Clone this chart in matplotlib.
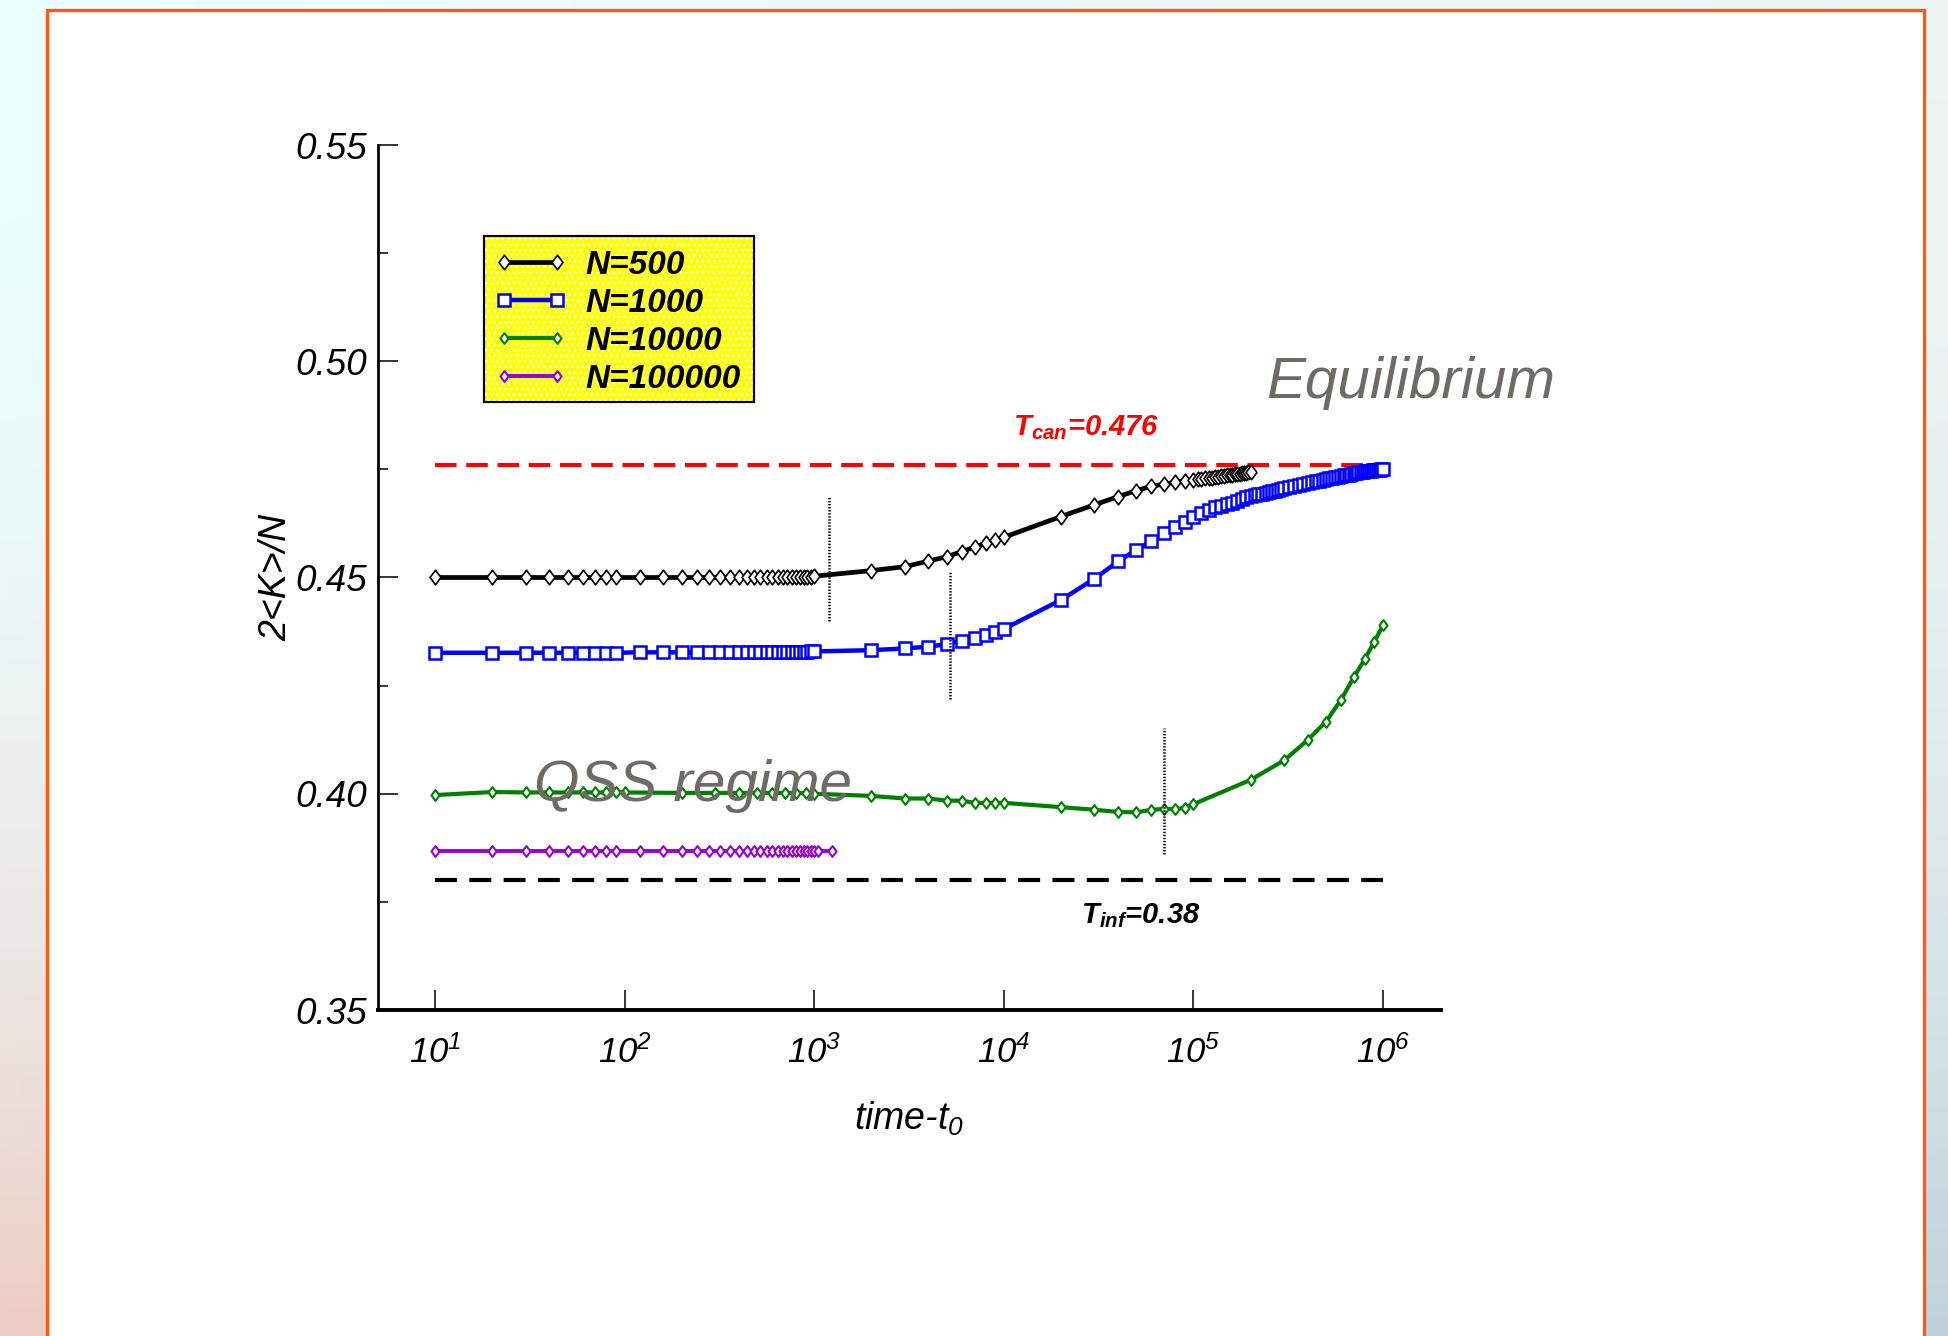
import numpy as np
import matplotlib
matplotlib.use("Agg")
import matplotlib.pyplot as plt
from matplotlib.patches import Rectangle
from matplotlib.path import Path
from matplotlib.ticker import FixedLocator, FuncFormatter, NullFormatter

plt.rcParams['font.family'] = ['Liberation Sans', 'DejaVu Sans']
plt.rcParams['mathtext.fontset'] = 'custom'
plt.rcParams['mathtext.rm'] = 'Liberation Sans:italic'
plt.rcParams['mathtext.it'] = 'Liberation Sans:italic'
plt.rcParams['mathtext.bf'] = 'Liberation Sans:italic:bold'
plt.rcParams['lines.scale_dashes'] = False

# ---- sampling times -------------------------------------------------------
t_early = [10, 20, 30, 40, 50, 60, 70, 80, 90,
           120, 160, 200, 240, 280, 320, 360, 400, 440, 480, 520, 560,
           600, 640, 680, 720, 760, 800, 840, 880, 920, 960, 1000]
t_decades = [2000, 3000, 4000, 5000, 6000, 7000, 8000, 9000,
             10000, 20000, 30000, 40000, 50000, 60000, 70000, 80000, 90000,
             100000]
t_500_tail = [105000, 110000, 115000, 120000, 125000, 130000, 135000,
              140000, 145000, 150000, 155000, 160000, 165000, 170000,
              175000, 180000, 185000, 190000, 195000, 200000]
t_1000_tail = [110000, 120000, 130000, 140000, 150000, 160000, 170000,
               180000, 190000, 200000, 210000, 220000, 230000, 240000,
               250000, 260000, 270000, 280000, 290000, 300000,
               320000, 340000, 360000, 380000, 400000, 420000, 440000,
               460000, 480000, 500000, 520000, 540000, 560000, 580000,
               600000, 620000, 640000, 660000, 680000, 700000, 720000,
               740000, 760000, 780000, 800000, 820000, 840000, 860000,
               880000, 900000, 920000, 940000, 960000, 980000, 1000000]
t_10000 = [10, 20, 30, 40, 50, 60, 70, 80, 90,
           100, 200, 300, 400, 500, 600, 700, 800, 900,
           1000, 2000, 3000, 4000, 5000, 6000, 7000, 8000, 9000,
           10000, 20000, 30000, 40000, 50000, 60000, 70000, 80000, 90000,
           100000, 200000, 300000, 400000, 500000, 600000, 700000, 800000,
           900000, 1000000]
t_100000_tail = [1040, 1240]

# ---- 2<K>/N for each system size -----------------------------------------
k_500 = ([0.4500] * 9 +
         [0.4500] * 18 + [0.4501, 0.4501, 0.4502, 0.4502, 0.4503] +
         [0.4516, 0.4525, 0.4538, 0.4548, 0.4560, 0.4570, 0.4579, 0.4587,
          0.4593, 0.4641, 0.4668, 0.4687, 0.4701, 0.4711, 0.4716, 0.4720,
          0.4723, 0.4726] +
         [0.4727, 0.4728, 0.4729, 0.4730, 0.4731, 0.4732, 0.4733, 0.4734,
          0.4735, 0.4736, 0.4737, 0.4738, 0.4739, 0.4740, 0.4740, 0.4741,
          0.4742, 0.4742, 0.4743, 0.4744])
k_1000 = ([0.4326] * 9 +
          [0.4327] * 18 + [0.4327, 0.4328, 0.4328, 0.4329, 0.4329] +
          [0.4332, 0.4336, 0.4340, 0.4346, 0.4354, 0.4359, 0.4367, 0.4373,
           0.4381, 0.4448, 0.4497, 0.4537, 0.4564, 0.4584, 0.4602, 0.4617,
           0.4629, 0.4641] +
          [0.4650, 0.4656, 0.4662, 0.4665, 0.4669, 0.4673, 0.4677, 0.4681,
           0.4685, 0.4688, 0.4690, 0.4692, 0.4694, 0.4695, 0.4697, 0.4699,
           0.4701, 0.4702, 0.4704, 0.4706,
           0.4709, 0.4711, 0.4714, 0.4716, 0.4718, 0.4720, 0.4722, 0.4724,
           0.4726, 0.4727, 0.4729, 0.4730, 0.4732, 0.4733, 0.4735, 0.4736,
           0.4737, 0.4738, 0.4740, 0.4741, 0.4742, 0.4743, 0.4744, 0.4745,
           0.4746, 0.4746, 0.4747, 0.4747, 0.4748, 0.4748, 0.4749, 0.4749,
           0.4749, 0.4750, 0.4750])
k_10000 = [0.3997, 0.4004, 0.4003, 0.4003, 0.4003, 0.4003, 0.4003, 0.4003,
           0.4003, 0.4003, 0.4002, 0.4002, 0.4002, 0.4002, 0.4002, 0.4002,
           0.4002, 0.4001, 0.4000, 0.3995, 0.3989, 0.3989, 0.3984, 0.3984,
           0.3979, 0.3979, 0.3979, 0.3979, 0.3969, 0.3963, 0.3958, 0.3957,
           0.3963, 0.3965, 0.3964, 0.3968, 0.3976, 0.4032, 0.4077, 0.4124,
           0.4167, 0.4217, 0.4269, 0.4311, 0.4352, 0.4390]
k_100000 = [0.3868] * 34

t_500 = t_early + t_decades + t_500_tail
t_1000 = t_early + t_decades + t_1000_tail
t_100000 = t_early + t_100000_tail

# reference temperatures
T_can = 0.476
T_inf = 0.38
t_ref_span = [10, 1e6]

# crossover markers: (time, lower, upper)
cross_t = [1.2e3, 5.2e3, 7.0e4]
cross_lo = [0.4399, 0.4218, 0.3860]
cross_hi = [0.4687, 0.4514, 0.4153]

series_labels = ['N=500', 'N=1000', 'N=10000', 'N=100000']

x_ticks = [1e1, 1e2, 1e3, 1e4, 1e5, 1e6]
y_major = [0.35, 0.40, 0.45, 0.50, 0.55]
y_minor = [0.375, 0.425, 0.475, 0.525]

# ---- figure ---------------------------------------------------------------
W, H, DPI = 1948, 1336, 100
fig = plt.figure(figsize=(W / DPI, H / DPI), dpi=DPI)

# slide-style gradient backdrop
bg = fig.add_axes([0, 0, 1, 1], zorder=-10)
ny, nx = 200, 300
yy, xx = np.mgrid[0:1:ny * 1j, 0:1:nx * 1j]
tl = np.array([0.92, 1.00, 1.00])
tr = np.array([0.93, 0.96, 0.95])
bl = np.array([0.93, 0.80, 0.77])
br = np.array([0.75, 0.82, 0.86])
wy = (yy ** 2.2)[..., None]
wx = xx[..., None]
img = (1 - wy) * ((1 - wx) * tl + wx * tr) + wy * ((1 - wx) * bl + wx * br)
bg.imshow(img, extent=[0, 1, 0, 1], aspect='auto', origin='upper')
bg.set_axis_off()

panel = Rectangle((47 / W, -0.02), (1924 - 47) / W, 1.02 - 10 / H,
                  transform=fig.transFigure, facecolor='white',
                  edgecolor='#ff5a14', lw=2.4, zorder=-5)
fig.patches.append(panel)

ax = fig.add_axes([378 / W, 1 - 1010 / H, (1441 - 378) / W, (1010 - 145) / H])
ax.set_facecolor('none')
ax.set_xscale('log')
ax.set_xlim(5.0, 2.02e6)
ax.set_ylim(0.35, 0.55)

diamond = Path([(0, 1), (0.75, 0), (0, -1), (-0.75, 0), (0, 1)],
               [Path.MOVETO, Path.LINETO, Path.LINETO, Path.LINETO,
                Path.CLOSEPOLY])

l1, = ax.plot(t_500, k_500, color='black', lw=3.4, marker=diamond, ms=10.5,
              mfc='white', mec='black', mew=1.2, zorder=4,
              label=series_labels[0])
l2, = ax.plot(t_1000, k_1000, color='#0000ff', lw=3.2, marker='s', ms=8.6,
              mfc='white', mec='#0000ff', mew=1.8, zorder=4,
              label=series_labels[1])
l3, = ax.plot(t_10000, k_10000, color='#008000', lw=3.0, marker=diamond,
              ms=7.8, mfc='white', mec='#008000', mew=1.5, zorder=4,
              label=series_labels[2])
l4, = ax.plot(t_100000, k_100000, color='#9a00d4', lw=2.8, marker=diamond,
              ms=7.8, mfc='white', mec='#9a00d4', mew=1.5, zorder=4,
              label=series_labels[3])

ax.plot(t_ref_span, [T_can, T_can], color='#ff0000', lw=3.0,
        dashes=(15.5, 7.0), zorder=3)
ax.plot(t_ref_span, [T_inf, T_inf], color='black', lw=3.0,
        dashes=(15.8, 8.9), zorder=3)

for t, lo, hi in zip(cross_t, cross_lo, cross_hi):
    ax.plot([t, t], [lo, hi], color='black', lw=1.8, dashes=(1.0, 1.2),
            zorder=5)

# axes styling
for side in ('top', 'right'):
    ax.spines[side].set_visible(False)
ax.spines['bottom'].set_linewidth(2.8)
ax.spines['left'].set_linewidth(2.0)

ax.xaxis.set_major_locator(FixedLocator(x_ticks))
ax.xaxis.set_minor_locator(FixedLocator([]))
ax.xaxis.set_major_formatter(
    FuncFormatter(lambda v, p: r'$\mathit{10^{%d}}$' % round(np.log10(v))))
ax.yaxis.set_major_locator(FixedLocator(y_major))
ax.yaxis.set_minor_locator(FixedLocator(y_minor))
ax.yaxis.set_major_formatter(FuncFormatter(lambda v, p: '%.2f' % v))
ax.yaxis.set_minor_formatter(NullFormatter())

ax.tick_params(axis='x', which='major', direction='in', length=14.5,
               width=1.1, labelsize=25, pad=18)
ax.tick_params(axis='y', which='major', direction='in', length=14.5,
               width=1.1, labelsize=26.5, pad=8)
ax.tick_params(axis='y', which='minor', direction='in', length=7,
               width=1.1)
for lab in ax.get_yticklabels():
    lab.set_fontstyle('italic')

ax.set_xlabel(r'time-$\mathit{t}_{\mathit{0}}$', fontsize=27,
              fontstyle='italic')
ax.xaxis.set_label_coords(0.5, -0.104)
ax.set_ylabel('2<K>/N', fontsize=27, fontstyle='italic')
ax.yaxis.set_label_coords(-0.079, 0.5)

# legend on a yellow stippled panel
ax.add_patch(Rectangle((0.0997, 0.7029), 0.254, 0.1919,
                       transform=ax.transAxes, facecolor='#ffff00',
                       edgecolor='black', lw=1.5, zorder=6))
ax.add_patch(Rectangle((0.0997, 0.7029), 0.254, 0.1919,
                       transform=ax.transAxes, facecolor='none',
                       edgecolor='white', lw=0, hatch='...', zorder=6.1))
ax.add_patch(Rectangle((0.0997, 0.7029), 0.254, 0.1919,
                       transform=ax.transAxes, facecolor='none',
                       edgecolor='black', lw=1.5, zorder=6.2))
leg = ax.legend(handles=[l1, l2, l3, l4], loc='upper left',
                bbox_to_anchor=(0.109, 0.879), frameon=False, numpoints=2,
                handlelength=2.2, handletextpad=0.55, labelspacing=0.21,
                borderpad=0.0, borderaxespad=0.0,
                prop={'family': 'Liberation Sans', 'weight': 'bold',
                      'style': 'italic', 'size': 24})
leg.set_zorder(7)

# annotations
ax.text(0.597, 0.665, r'$\mathbf{T}_{\mathbf{can}}$=0.476',
        transform=ax.transAxes, color='#ff0000', fontsize=21,
        fontweight='bold', fontstyle='italic', ha='left', va='baseline',
        zorder=8)
ax.text(0.661, 0.1006, r'$\mathbf{T}_{\mathbf{inf}}$=0.38',
        transform=ax.transAxes, color='black', fontsize=21,
        fontweight='bold', fontstyle='italic', ha='left', va='baseline',
        zorder=8)
ax.text(0.8354, 0.708, 'Equilibrium', transform=ax.transAxes,
        color='#6e6b66', fontsize=42, fontstyle='italic', ha='left',
        va='baseline', zorder=8, clip_on=False)
ax.text(0.1468, 0.2416, 'QSS regime', transform=ax.transAxes,
        color='#6e6b66', fontsize=42, fontstyle='italic', ha='left',
        va='baseline', zorder=8)

fig.savefig('out.png', dpi=DPI)
